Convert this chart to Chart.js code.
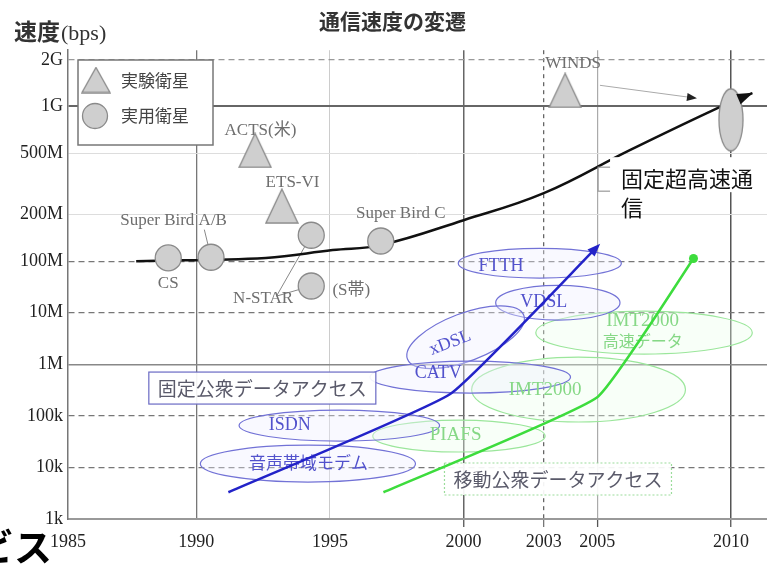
<!DOCTYPE html>
<html><head><meta charset="utf-8">
<script src="https://cdn.jsdelivr.net/npm/chart.js@4.4.0/dist/chart.umd.min.js"></script>
<style>html,body{margin:0;padding:0;background:#fff}#wrap{width:767px;height:566px;position:relative}</style>
</head><body><div id="wrap"><canvas id="c" width="767" height="566"></canvas></div>
<script>
// ---------------- data ----------------
const xTickYears = [1985, 1990, 1995, 2000, 2003, 2005, 2010];
const yTickValues = [1e3, 1e4, 1e5, 1e6, 1e7, 1e8, 2e8, 5e8, 1e9, 2e9];
const yTickLabels = ['1k', '10k', '100k', '1M', '10M', '100M', '200M', '500M', '1G', '2G'];

// 実験衛星 (experimental satellites)
const expSatNames = ['ACTS(米)', 'ETS-VI', 'WINDS'];
const expSatYears = [1992.2, 1993.2, 2003.8];
const expSatBps = [5.2e8, 2.27e8, 1.27e9];
const expSatLabelYears = [1992.4, 1993.6, 2004.1];
const expSatLabelBps = [7.0e8, 3.2e8, 1.9e9];

// 実用衛星 (practical satellites)
const useSatNames = ['CS', 'Super Bird A/B', 'N-STAR', '(S帯)', 'Super Bird C'];
const useSatYears = [1988.95, 1990.55, 1994.3, 1994.3, 1996.9];
const useSatBps = [1.05e8, 1.06e8, 1.47e8, 3.3e7, 1.35e8];
const useSatLabelYears = [1988.95, 1989.15, 1992.5, 1995.8, 1997.65];
const useSatLabelBps = [3.75e7, 1.84e8, 1.92e7, 2.7e7, 2.04e8];

// 2010 target
const targetYears = [2010];
const targetBps = [8.2e8];

// 固定超高速通信 trend
const fixedHighYears = [1987.75, 1992.6, 1995.1, 1996.9, 2000.0, 2003.0, 2006.2, 2009.3, 2010.8];
const fixedHighBps = [1.0e8, 1.05e8, 1.18e8, 1.27e8, 1.84e8, 2.75e8, 5.2e8, 9.4e8, 1.22e9];

// 固定公衆データアクセス trend
const fixedDataYears = [1991.2, 1999.5, 2005.0];
const fixedDataBps = [3.3e3, 2.65e5, 1.24e8];

// 移動公衆データアクセス trend
const mobileDataYears = [1997.0, 2005.0, 2008.6];
const mobileDataBps = [3.3e3, 2.3e5, 1.04e8];

// service ranges (fixed)
const fixedSvcNames = ['FTTH', 'VDSL', 'xDSL', 'CATV', 'ISDN', '音声帯域モデム'];
const fixedSvcYearFrom = [1999.8, 2001.2, 1997.75, 1996.5, 1991.6, 1990.15];
const fixedSvcYearTo = [2005.9, 2005.85, 2002.4, 2004.0, 1999.1, 1998.2];
const fixedSvcBpsLow = [4.7e7, 7.2e6, 1.15e6, 2.77e5, 3.25e4, 5.2e3];
const fixedSvcBpsHigh = [1.21e8, 3.4e7, 9.8e6, 1.15e6, 1.29e5, 2.7e4];
const fixedSvcLabelYears = [2001.4, 2003.0, 1999.5, 1999.05, 1993.5, 1994.2];
const fixedSvcLabelBps = [8.0e7, 1.6e7, 2.6e6, 6.8e5, 6.6e4, 1.22e4];

// service ranges (mobile)
const mobileSvcNames = ['PIAFS', 'IMT2000', 'IMT2000\n高速データ'];
const mobileSvcYearFrom = [1996.6, 2000.3, 2002.7];
const mobileSvcYearTo = [2003.05, 2008.3, 2010.8];
const mobileSvcBpsLow = [1.99e4, 7.6e4, 1.58e6];
const mobileSvcBpsHigh = [8.3e4, 1.38e6, 1.07e7];
const mobileSvcLabelYears = [1999.7, 2003.05, 2006.7];
const mobileSvcLabelBps = [4.2e4, 3.2e5, 4.4e6];

// group labels
const groupNames = ['固定公衆データアクセス', '移動公衆データアクセス'];
const groupYears = [1992.47, 2003.53];
const groupBps = [3.46e5, 5.96e3];
const highSpeedLabel = ['固定超高速通', '信'];
const highSpeedYear = 2005.03;
const highSpeedBps = 4.7e8;

// leader lines
const leaderFrom = [[1990.3, 1.6e8], [1993.0, 2.1e7], [1993.0, 2.1e7]];
const leaderTo = [[1990.55, 1.06e8], [1994.3, 1.47e8], [1994.3, 3.3e7]];
const windsArrowFrom = [2005.1, 1.37e9];
const windsArrowTo = [2008.73, 1.13e9];

// ---------------- scale ----------------
const warp = v => { const l = Math.log10(v); return l <= 8 ? l - 3 : 5 + (l - 8) * 3; };
const unwarp = u => u <= 5 ? Math.pow(10, u + 3) : Math.pow(10, 8 + (u - 5) / 3);
class SplitLogScale extends Chart.LinearScale {
  configure() {
    super.configure();
    this._startValue = warp(this.min);
    this._endValue = warp(this.max);
    this._valueRange = this._endValue - this._startValue;
  }
  getPixelForValue(v) {
    if (v === null || v === undefined) return NaN;
    return this.getPixelForDecimal((warp(v) - this._startValue) / this._valueRange);
  }
  getValueForPixel(p) { return unwarp(this._startValue + this.getDecimalForPixel(p) * this._valueRange); }
}
SplitLogScale.id = 'splitLog';
SplitLogScale.defaults = {};
Chart.register(SplitLogScale);

// ---------------- styles ----------------
const SERIF = "'Liberation Serif','Noto Sans CJK JP',serif";
const SANS = "'Noto Sans CJK JP','Noto Sans',sans-serif";
const yGridColor = ['rgba(0,0,0,0)', '#777', '#777', '#888', '#777', '#777', '#ddd', '#ddd', '#666', '#999'];
const yGridWidth = [1, 1.2, 1.2, 1.5, 1.2, 1.2, 1, 1, 2, 1.2];
const yGridDash = [[], [6, 4], [6, 4], [], [6, 4], [6, 4], [], [], [], [6, 4]];
const xGridColor = ['rgba(0,0,0,0)', '#777', '#ccc', '#666', '#666', '#aaa', '#555'];
const xGridWidth = [1, 1.3, 1, 1.5, 1.3, 1.2, 1.5];
const xGridDash = [[], [], [], [], [4, 4], [], []];
const xTickColor = ['rgba(0,0,0,0)', 'rgba(0,0,0,0)', 'rgba(0,0,0,0)', '#555', '#777', '#555', '#555'];

function makeTriangle(w, h) {
  const c = document.createElement('canvas'); c.width = w + 2; c.height = h + 2;
  const g = c.getContext('2d');
  g.beginPath(); g.moveTo(1 + w / 2, 1); g.lineTo(1 + w, 1 + h); g.lineTo(1, 1 + h); g.closePath();
  g.fillStyle = '#cfcfcf'; g.fill(); g.strokeStyle = '#8a8a8a'; g.lineWidth = 1.3; g.stroke();
  return c;
}
function makeEllipse(w, h) {
  const c = document.createElement('canvas'); c.width = w + 2; c.height = h + 2;
  const g = c.getContext('2d');
  g.beginPath(); g.ellipse(1 + w / 2, 1 + h / 2, w / 2, h / 2, 0, 0, Math.PI * 2);
  g.fillStyle = '#cfcfcf'; g.fill(); g.strokeStyle = '#8a8a8a'; g.lineWidth = 1.3; g.stroke();
  return c;
}
const triImg = makeTriangle(32, 34);
const triLegendImg = makeTriangle(28, 25);
const targetImg = makeEllipse(24, 62);

const pts = (xs, ys) => xs.map((x, i) => ({ x: x, y: ys[i] }));

function arrowHead(ctx, x0, y0, x1, y1, len, wid, color) {
  const a = Math.atan2(y1 - y0, x1 - x0);
  ctx.save();
  ctx.translate(x1, y1); ctx.rotate(a);
  ctx.beginPath(); ctx.moveTo(0, 0); ctx.lineTo(-len, wid / 2); ctx.lineTo(-len, -wid / 2); ctx.closePath();
  ctx.fillStyle = color; ctx.fill();
  ctx.restore();
}

const annotations = {
  id: 'annotations',
  beforeDatasetsDraw(chart) {
    const ctx = chart.ctx, xs = chart.scales.x, ys = chart.scales.y;
    const X = v => xs.getPixelForValue(v), Y = v => ys.getPixelForValue(v);
    ctx.save();
    // ellipses
    const drawEll = (x0, x1, b0, b1, rot, stroke, fill) => {
      const px0 = X(x0), px1 = X(x1), py0 = Y(b0), py1 = Y(b1);
      ctx.beginPath();
      ctx.ellipse((px0 + px1) / 2, (py0 + py1) / 2, Math.abs(px1 - px0) / 2, Math.abs(py1 - py0) / 2, rot, 0, Math.PI * 2);
      ctx.fillStyle = fill; ctx.fill();
      ctx.strokeStyle = stroke; ctx.lineWidth = 1.2; ctx.stroke();
    };
    mobileSvcNames.forEach((n, i) => drawEll(mobileSvcYearFrom[i], mobileSvcYearTo[i], mobileSvcBpsLow[i], mobileSvcBpsHigh[i], 0, '#9be69b', 'rgba(235,255,235,0.35)'));
    fixedSvcNames.forEach((n, i) => drawEll(fixedSvcYearFrom[i], fixedSvcYearTo[i], fixedSvcBpsLow[i], fixedSvcBpsHigh[i], n === 'xDSL' ? -0.36 : 0, '#7272d6', 'rgba(238,238,255,0.35)'));
    // ellipse labels
    ctx.textAlign = 'center'; ctx.textBaseline = 'middle';
    fixedSvcNames.forEach((n, i) => {
      ctx.save();
      ctx.translate(X(fixedSvcLabelYears[i]), Y(fixedSvcLabelBps[i]));
      if (n === 'xDSL') ctx.rotate(-0.36);
      ctx.fillStyle = '#5252cc';
      ctx.font = (/[^\x00-\x7f]/.test(n) ? '17px ' + SANS : '18px ' + SERIF);
      ctx.fillText(n, 0, 0);
      ctx.restore();
    });
    mobileSvcNames.forEach((n, i) => {
      const lines = n.split('\n');
      ctx.fillStyle = '#86d886';
      lines.forEach((ln, k) => {
        ctx.font = (/[^\x00-\x7f]/.test(ln) ? '16px ' + SANS : '19px ' + SERIF);
        ctx.fillText(ln, X(mobileSvcLabelYears[i]), Y(mobileSvcLabelBps[i]) + (k - (lines.length - 1) / 2) * 20);
      });
    });
    // group boxes
    groupNames.forEach((n, i) => {
      ctx.font = '19px ' + SANS;
      const w = ctx.measureText(n).width + 18, h = 32;
      const cx = X(groupYears[i]), cy = Y(groupBps[i]);
      ctx.fillStyle = 'rgba(255,255,255,0.92)';
      ctx.fillRect(cx - w / 2, cy - h / 2, w, h);
      ctx.lineWidth = 1.2;
      if (i === 0) { ctx.setLineDash([]); ctx.strokeStyle = '#6a6ac4'; }
      else { ctx.setLineDash([2, 2]); ctx.strokeStyle = '#9bdc9b'; }
      ctx.strokeRect(cx - w / 2, cy - h / 2, w, h);
      ctx.setLineDash([]);
      ctx.fillStyle = '#5a5a6a';
      ctx.fillText(n, cx, cy + 1);
    });
    // legend box
    ctx.fillStyle = '#fff'; ctx.fillRect(78, 60, 135, 85);
    ctx.strokeStyle = '#777'; ctx.lineWidth = 1.5; ctx.strokeRect(78, 60, 135, 85);
    ctx.drawImage(triLegendImg, 96 - triLegendImg.width / 2, 80 - triLegendImg.height / 2);
    ctx.beginPath(); ctx.arc(95, 116, 12.5, 0, Math.PI * 2);
    ctx.fillStyle = '#cfcfcf'; ctx.fill(); ctx.strokeStyle = '#8a8a8a'; ctx.lineWidth = 1.3; ctx.stroke();
    ctx.fillStyle = '#444'; ctx.font = '17px ' + SANS; ctx.textAlign = 'left';
    ctx.fillText(chart.data.datasets[0].label, 121, 81);
    ctx.fillText(chart.data.datasets[1].label, 121, 116);
    // leader lines
    ctx.strokeStyle = '#888'; ctx.lineWidth = 1;
    leaderFrom.forEach((f, i) => {
      ctx.beginPath(); ctx.moveTo(X(f[0]), Y(f[1])); ctx.lineTo(X(leaderTo[i][0]), Y(leaderTo[i][1])); ctx.stroke();
    });
    // WINDS arrow
    const wx0 = X(windsArrowFrom[0]), wy0 = Y(windsArrowFrom[1]), wx1 = X(windsArrowTo[0]), wy1 = Y(windsArrowTo[1]);
    ctx.strokeStyle = '#aaa'; ctx.beginPath(); ctx.moveTo(wx0, wy0); ctx.lineTo(wx1 - 4, wy1 - 0.5); ctx.stroke();
    arrowHead(ctx, wx0, wy0, wx1, wy1, 10, 8, '#222');
    // satellite labels
    ctx.fillStyle = '#6e6e6e'; ctx.font = '17px ' + SERIF; ctx.textAlign = 'center';
    expSatNames.forEach((n, i) => ctx.fillText(n, X(expSatLabelYears[i]), Y(expSatLabelBps[i])));
    useSatNames.forEach((n, i) => ctx.fillText(n, X(useSatLabelYears[i]), Y(useSatLabelBps[i])));
    ctx.restore();
  },
  afterDatasetsDraw(chart) {
    const ctx = chart.ctx, xs = chart.scales.x, ys = chart.scales.y;
    const X = v => xs.getPixelForValue(v), Y = v => ys.getPixelForValue(v);
    ctx.save();
    // arrow heads
    [[4, '#111', 16, 11], [5, '#2323c8', 13, 10]].forEach(([di, col, len, wid]) => {
      const m = chart.getDatasetMeta(di).data;
      const a = m[m.length - 2], b = m[m.length - 1];
      arrowHead(ctx, a.x, a.y, b.x + (b.x - a.x) * 0.02, b.y + (b.y - a.y) * 0.02, len, wid, col);
    });
    // 固定超高速通信 callout
    const bx = X(highSpeedYear), by = Y(highSpeedBps);
    ctx.strokeStyle = '#999'; ctx.lineWidth = 1.2;
    ctx.strokeRect(bx, by + 10, 200, 24);
    ctx.fillStyle = '#fff'; ctx.fillRect(bx + 12, by, 200, 35);
    ctx.fillStyle = '#111'; ctx.font = '22px ' + SANS; ctx.textAlign = 'left'; ctx.textBaseline = 'middle';
    ctx.fillText(highSpeedLabel[0], bx + 23, by + 21);
    ctx.fillText(highSpeedLabel[1], bx + 23, by + 50);
    // axis title
    ctx.textBaseline = 'alphabetic';
    ctx.font = 'bold 23px ' + SANS; ctx.fillStyle = '#333';
    ctx.fillText('速度', 14, 40);
    const w = ctx.measureText('速度').width;
    ctx.font = '22px ' + SERIF;
    ctx.fillText('(bps)', 14 + w + 1, 40);
    // cut-off slide text at bottom-left
    ctx.font = 'bold 38px ' + SANS; ctx.fillStyle = '#000'; ctx.textAlign = 'right';
    ctx.fillText('ービス', 52, 561);
    ctx.restore();
  }
};

new Chart(document.getElementById('c'), {
  type: 'line',
  data: {
    datasets: [
      { label: '実験衛星', data: pts(expSatYears, expSatBps), showLine: false, pointStyle: triImg, pointRadius: 17 },
      { label: '実用衛星', data: pts(useSatYears, useSatBps), showLine: false, pointStyle: 'circle', pointRadius: 13,
        pointBackgroundColor: '#cfcfcf', pointBorderColor: '#8a8a8a', pointBorderWidth: 1.3 },
      { label: '2010', data: pts(targetYears, targetBps), showLine: false, pointStyle: targetImg, pointRadius: 20 },
      { label: '移動公衆データアクセス', data: pts(mobileDataYears, mobileDataBps), borderColor: '#3ddc3d', borderWidth: 2.5,
        pointRadius: [0, 0, 4.5], pointBackgroundColor: '#3ddc3d', pointBorderWidth: 0, tension: 0.12, fill: false },
      { label: '固定超高速通信', data: pts(fixedHighYears, fixedHighBps), borderColor: '#111', borderWidth: 2.5,
        pointRadius: 0, tension: 0.4, fill: false },
      { label: '固定公衆データアクセス', data: pts(fixedDataYears, fixedDataBps), borderColor: '#2323c8', borderWidth: 2.5,
        pointRadius: 0, tension: 0.12, fill: false }
    ]
  },
  options: {
    responsive: false, animation: false, events: [],
    layout: { autoPadding: false, padding: { left: 18, right: 0, top: 0, bottom: 0 } },
    plugins: {
      legend: { display: false }, tooltip: { enabled: false },
      title: { display: true, text: '通信速度の変遷', color: '#333',
        font: { family: SANS, size: 21, weight: 'bold' }, padding: { top: 8, bottom: 17 } }
    },
    scales: {
      x: {
        type: 'linear', min: 1985.2, max: 2011.35,
        afterBuildTicks: s => { s.ticks = xTickYears.map(v => ({ value: Math.max(v, s.min) })); },
        afterFit: s => { s.height = 47; s.paddingLeft = 0; s.paddingRight = 0; },
        ticks: { autoSkip: false, maxRotation: 0, padding: 4, color: '#222', font: { family: SERIF, size: 18 },
          callback: (v, i) => String(xTickYears[i]) },
        grid: { color: c => xGridColor[c.index], lineWidth: c => xGridWidth[c.index], tickLength: 8,
          tickColor: c => xTickColor[c.index], tickWidth: 1.3 },
        border: { display: true, color: '#999', width: 2, dash: c => xGridDash[c.index] || [] }
      },
      y: {
        type: 'splitLog', min: 1e3, max: 2.31e9, bounds: 'data',
        afterBuildTicks: s => { s.ticks = yTickValues.map(v => ({ value: v })); },
        afterFit: s => { s.width = 50; s.paddingTop = 0; s.paddingBottom = 0; },
        ticks: { autoSkip: false, padding: 5, color: '#222', font: { family: SERIF, size: 18 },
          callback: (v, i) => yTickLabels[i] },
        grid: { color: c => yGridColor[c.index], lineWidth: c => yGridWidth[c.index], drawTicks: false },
        border: { display: true, color: '#777', width: 1.5, dash: c => yGridDash[c.index] || [] }
      }
    }
  },
  plugins: [annotations]
});
</script>
</body></html>
